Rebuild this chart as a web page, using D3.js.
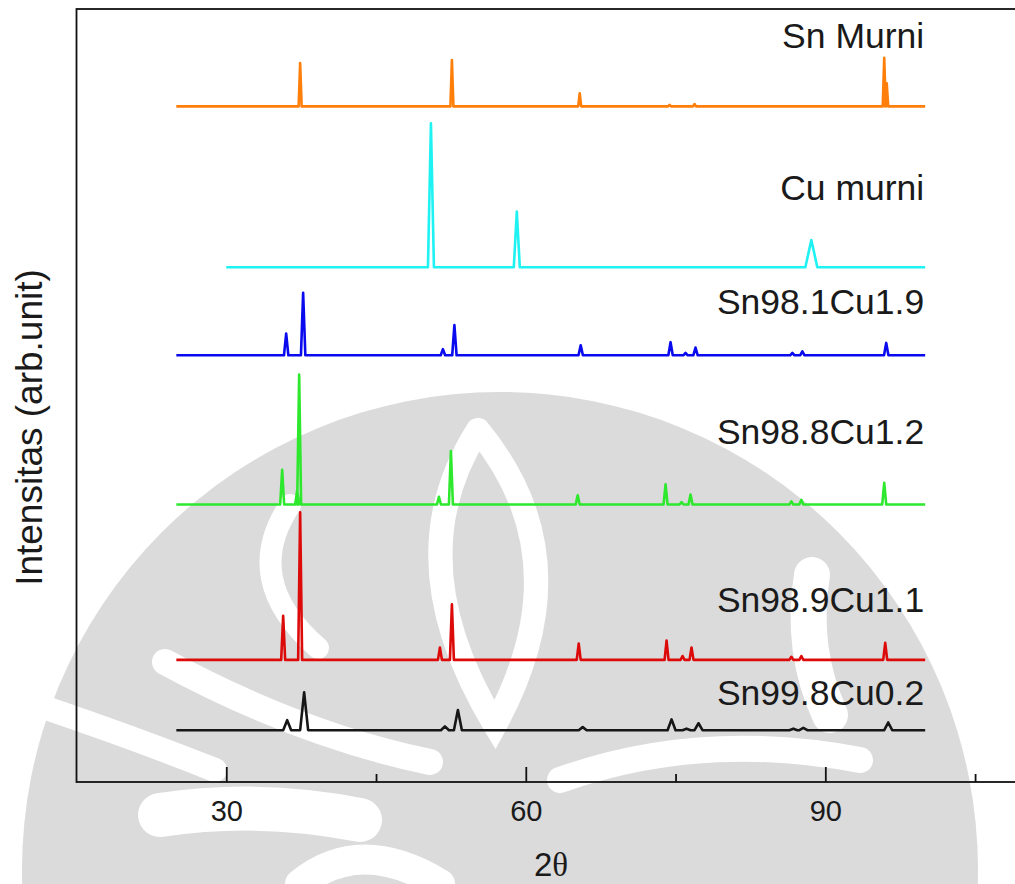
<!DOCTYPE html>
<html>
<head>
<meta charset="utf-8">
<script src="https://cdn.jsdelivr.net/npm/d3@7"></script>
<style>
  html, body { margin: 0; padding: 0; background: #fff; }
  svg { display: block; }
  text { font-family: "Liberation Sans", Arial, sans-serif; fill: #1a1a1a; }
</style>
</head>
<body>
<svg id="chart" width="1015" height="884"></svg>
<script>
// XRD patterns of pure Sn, pure Cu and four Sn-Cu alloys, stacked with vertical offsets.
const seriesNames  = ["Sn Murni", "Cu murni", "Sn98.1Cu1.9", "Sn98.8Cu1.2", "Sn98.9Cu1.1", "Sn99.8Cu0.2"];
const seriesColors = ["#ff7f0a", "#1ff2f2", "#0a0aee", "#2ee82e", "#dd0a0a", "#161616"];
const seriesOffsets = [874, 666, 552, 359, 158, 67];      // baseline of each pattern (arb. unit)
const seriesStart   = [25, 30, 25, 25, 25, 25];           // first scanned 2θ
const seriesEnd     = [100, 100, 100, 100, 100, 100];     // last scanned 2θ
const seriesHalfWidth = [0.15, 0.3, 0.22, 0.2, 0.2, 0.4]; // peak half width at base (deg)

// Peaks as [2θ, intensity above baseline, optional half width]
const snMurniPeaks = [[37.4, 56], [52.6, 60], [65.4, 17], [74.4, 2], [76.9, 3], [95.9, 63], [96.15, 30]];
const cuMurniPeaks = [[50.5, 186], [59.1, 72], [88.6, 35, 0.6]];
const sn981Peaks   = [[36.0, 28], [37.7, 81], [51.7, 8], [52.85, 39], [65.5, 13], [74.5, 17], [76.0, 3], [77.0, 10], [86.7, 3], [87.7, 5], [96.1, 16]];
const sn988Peaks   = [[35.6, 45], [37.1, 18], [37.3, 168], [51.3, 10], [52.5, 69], [65.2, 12], [74.0, 26], [75.6, 3], [76.5, 13], [86.6, 4], [87.6, 6], [95.9, 28]];
const sn989Peaks   = [[35.7, 57], [37.4, 191], [51.4, 16], [52.6, 72], [65.3, 21], [74.1, 25], [75.7, 5], [76.6, 16], [86.6, 4], [87.6, 5], [96.0, 22]];
const sn998Peaks   = [[36.1, 13], [37.8, 49], [51.9, 5], [53.2, 26], [65.7, 4], [74.6, 14], [76.1, 2], [77.3, 9], [86.8, 2], [87.8, 3], [96.3, 10]];
const seriesPeaks = [snMurniPeaks, cuMurniPeaks, sn981Peaks, sn988Peaks, sn989Peaks, sn998Peaks];

// Label baselines in arb. unit (same axis as offsets)
const labelLevels = [950, 753, 605, 437, 220, 100];

const xMajorTicks = [30, 60, 90];
const xMinorTicks = [45, 75, 105];

const svg = d3.select("#chart");
const x = d3.scaleLinear().domain([15, 110]).range([76.5, 1025]);
const y = d3.scaleLinear().domain([0, 1000]).range([782, 9]);

// Faint emblem watermark behind the figure: pale disc cut by white swirls
const emblemGray = "#dbdbdb";
const emblemCuts = [
  { d: "M290,505 Q240,580 318,648", w: 22 },              // left crescent
  { d: "M478,430 Q395,560 495,725 Q585,560 478,430", w: 24 }, // central leaf outline
  { d: "M165,662 Q300,735 430,762", w: 26 },               // lower-left swoosh
  { d: "M40,706 Q140,740 215,770", w: 24 },                // outer-left swoosh
  { d: "M812,575 Q800,650 830,715", w: 36 },               // right crescent
  { d: "M160,815 Q260,800 360,820", w: 44 },               // band under the axis
  { d: "M300,884 Q360,835 440,884", w: 30 },               // bottom arch
  { d: "M560,780 Q700,730 860,760", w: 26 }                // lower-right swoosh
];
const emblem = svg.append("g");
emblem.append("circle").attr("cx", 500).attr("cy", 870).attr("r", 478).attr("fill", emblemGray);
emblem.selectAll("path.cut").data(emblemCuts).join("path")
  .attr("class", "cut")
  .attr("d", c => c.d)
  .attr("fill", "none")
  .attr("stroke", "#fff")
  .attr("stroke-width", c => c.w)
  .attr("stroke-linecap", "round");

// Plot frame (the right side runs past the page edge)
svg.append("rect")
  .attr("x", x(15)).attr("y", y(1000))
  .attr("width", x(110) - x(15)).attr("height", y(0) - y(1000))
  .attr("fill", "none").attr("stroke", "#111").attr("stroke-width", 1.8);

// Each pattern: flat baseline with triangular peak profiles
const line = d3.line().x(d => x(d[0])).y(d => y(d[1]));
seriesNames.forEach((name, i) => {
  const off = seriesOffsets[i];
  const pts = [[seriesStart[i], off]];
  seriesPeaks[i].slice().sort((a, b) => a[0] - b[0]).forEach(p => {
    const w = p[2] || seriesHalfWidth[i];
    pts.push([p[0] - w, off], [p[0], off + p[1]], [p[0] + w, off]);
  });
  pts.push([seriesEnd[i], off]);
  svg.append("path")
    .attr("d", line(pts))
    .attr("fill", "none")
    .attr("stroke", seriesColors[i])
    .attr("stroke-width", 2.6)
    .attr("stroke-linejoin", "round");

  svg.append("text")
    .attr("x", x(99.9)).attr("y", y(labelLevels[i]))
    .attr("text-anchor", "end")
    .attr("font-size", 35.5)
    .text(name);
});

// Bottom axis with inward ticks
const axisG = svg.append("g").attr("transform", `translate(0,${y(0)})`);
axisG.call(d3.axisBottom(x).tickValues(xMajorTicks).tickSize(-15).tickPadding(18).tickFormat(d3.format("d")));
axisG.append("g").call(d3.axisBottom(x).tickValues(xMinorTicks).tickSize(-8).tickFormat(""));
axisG.selectAll(".domain").remove();
axisG.selectAll("line").attr("stroke", "#111").attr("stroke-width", 1.8);
axisG.selectAll("text").attr("font-size", 29).attr("fill", "#1a1a1a")
  .style("font-family", "'Liberation Sans', Arial, sans-serif");

// Axis titles
svg.append("text")
  .attr("transform", `translate(42,${(y(0) + y(1000)) / 2 + 32}) rotate(-90)`)
  .attr("text-anchor", "middle")
  .attr("font-size", 37)
  .text("Intensitas (arb.unit)");

const xt = svg.append("text")
  .attr("x", 551).attr("y", 876)
  .attr("text-anchor", "middle")
  .attr("font-size", 33);
xt.append("tspan").text("2");
xt.append("tspan").style("font-family", "'Liberation Serif', 'DejaVu Serif', serif").text("θ");
</script>
</body>
</html>
